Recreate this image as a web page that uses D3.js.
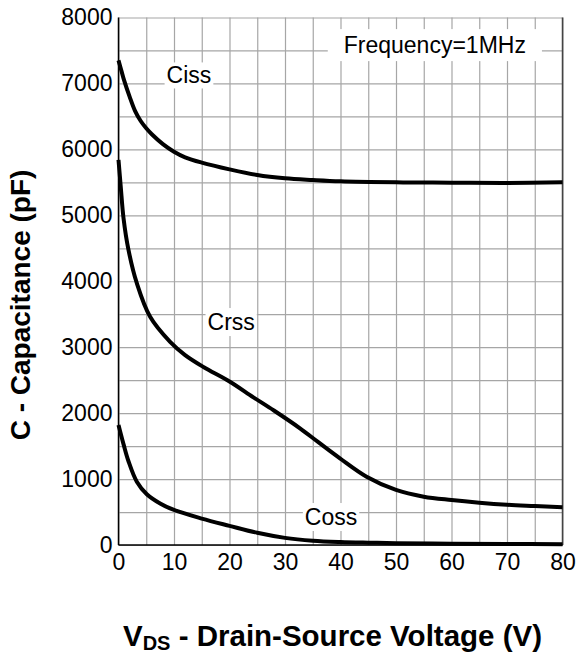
<!DOCTYPE html>
<html>
<head>
<meta charset="utf-8">
<script src="https://cdn.jsdelivr.net/npm/d3@7"></script>
<style>
  body { margin: 0; background: #fff; }
  svg { display: block; }
  text { font-family: "Liberation Sans", Arial, sans-serif; fill: #000; }
</style>
</head>
<body>
<svg id="chart" width="576" height="658"></svg>
<script>
// tick labels
const xTicks = [0, 10, 20, 30, 40, 50, 60, 70, 80];
const yTicks = [0, 1000, 2000, 3000, 4000, 5000, 6000, 7000, 8000];

// Ciss (pF) vs VDS (V)
const cissV = [0, 0.5, 1, 2, 3, 4, 5, 6, 8, 10, 12, 15, 20, 25, 30, 35, 40, 50, 60, 70, 80];
const cissC = [7350, 7200, 7050, 6800, 6580, 6430, 6320, 6230, 6080, 5965, 5880, 5800, 5697, 5611, 5561, 5535, 5515, 5500, 5495, 5490, 5500];

// Crss
const crssV = [0, 0.4, 0.9, 1.8, 3.3, 5.7, 9.3, 12, 15.3, 20, 24.3, 28, 32.7, 36, 39.9, 44.7, 50, 55, 60, 65, 70, 75, 80];
const crssC = [5840, 5440, 4960, 4475, 3970, 3460, 3080, 2880, 2700, 2480, 2240, 2040, 1770, 1560, 1315, 1036, 835, 733, 682, 642, 611, 591, 572];

// Coss
const cossV = [0, 0.9, 1.8, 3.3, 5.1, 7.5, 10, 15, 20, 25, 30, 35, 40, 45, 50, 60, 70, 80];
const cossC = [1820, 1530, 1270, 960, 770, 630, 531, 400, 290, 185, 108, 65, 45, 35, 28, 20, 15, 12];

const W = 576, H = 658;
const margin = { top: 17.5, right: 13.5, bottom: 113, left: 118.5 };
const width = W - margin.left - margin.right;
const height = H - margin.top - margin.bottom;

const svg = d3.select("#chart");
const g = svg.append("g")
  .attr("transform", "translate(" + margin.left + "," + margin.top + ")");

const x = d3.scaleLinear().domain([0, 80]).range([0, width]);
const y = d3.scaleLinear().domain([0, 8000]).range([height, 0]);

// grid
g.append("g")
  .attr("transform", "translate(0," + height + ")")
  .call(d3.axisBottom(x).tickValues(d3.range(0, 81, 5)).tickSize(-height).tickFormat(""))
  .call(a => a.select(".domain").remove())
  .selectAll("line").attr("stroke", "#a6a6a6").attr("stroke-width", 1.2);

g.append("g")
  .call(d3.axisLeft(y).tickValues(d3.range(0, 8001, 500)).tickSize(-width).tickFormat(""))
  .call(a => a.select(".domain").remove())
  .selectAll("line").attr("stroke", "#a6a6a6").attr("stroke-width", 1.2);

// frame
g.append("line").attr("x1", width).attr("x2", width).attr("y1", 0).attr("y2", height)
  .attr("stroke", "#444").attr("stroke-width", 1.5);
g.append("line").attr("x1", 0).attr("x2", 0).attr("y1", 0).attr("y2", height)
  .attr("stroke", "#000").attr("stroke-width", 1.5);
g.append("line").attr("x1", 0).attr("x2", width).attr("y1", height).attr("y2", height)
  .attr("stroke", "#000").attr("stroke-width", 1.5);

// tick labels
g.append("g")
  .attr("transform", "translate(0," + height + ")")
  .call(d3.axisBottom(x).tickValues(xTicks).tickSize(0).tickPadding(9).tickFormat(d3.format("d")))
  .call(a => a.select(".domain").remove())
  .selectAll("text").attr("font-size", 23).attr("font-family", "Liberation Sans, Arial, sans-serif");

g.append("g")
  .call(d3.axisLeft(y).tickValues(yTicks).tickSize(0).tickPadding(6).tickFormat(d3.format("d")))
  .call(a => a.select(".domain").remove())
  .selectAll("text").attr("font-size", 23).attr("font-family", "Liberation Sans, Arial, sans-serif");

// curves
const line = d3.line()
  .x(d => x(d[0]))
  .y(d => y(d[1]))
  .curve(d3.curveCatmullRom.alpha(0.5));

[[cissV, cissC], [crssV, crssC], [cossV, cossC]].forEach(([vs, cs]) => {
  g.append("path")
    .datum(vs.map((v, i) => [v, cs[i]]))
    .attr("fill", "none")
    .attr("stroke", "#000")
    .attr("stroke-width", 4)
    .attr("stroke-linejoin", "round")
    .attr("d", line);
});

// labels with white backing
function label(txt, vx, vy, padX, padY) {
  const t = g.append("text")
    .attr("x", x(vx)).attr("y", y(vy))
    .attr("text-anchor", "middle")
    .attr("font-size", 23)
    .text(txt);
  const b = t.node().getBBox();
  g.insert("rect", () => t.node())
    .attr("x", b.x - padX).attr("y", b.y - padY)
    .attr("width", b.width + 2 * padX).attr("height", b.height + 2 * padY)
    .attr("fill", "#fff");
}
label("Ciss", 12.7, 7000, 2, 0);
label("Crss", 20.3, 3260, 2, 1);
label("Coss", 38.3, 303, 2, 1);
label("Frequency=1MHz", 57, 7460, 16, 3);

// axis titles
svg.append("text")
  .attr("transform", "translate(30,305) rotate(-90)")
  .attr("text-anchor", "middle")
  .attr("font-size", 28)
  .attr("font-weight", "bold")
  .text("C - Capacitance (pF)");

const xt = svg.append("text")
  .attr("x", 332.5).attr("y", 646)
  .attr("text-anchor", "middle")
  .attr("font-size", 29.5)
  .attr("font-weight", "bold");
xt.append("tspan").text("V");
xt.append("tspan").attr("font-size", 20).attr("dy", 4).text("DS");
xt.append("tspan").attr("dy", -4).text(" - Drain-Source Voltage (V)");
</script>
</body>
</html>
